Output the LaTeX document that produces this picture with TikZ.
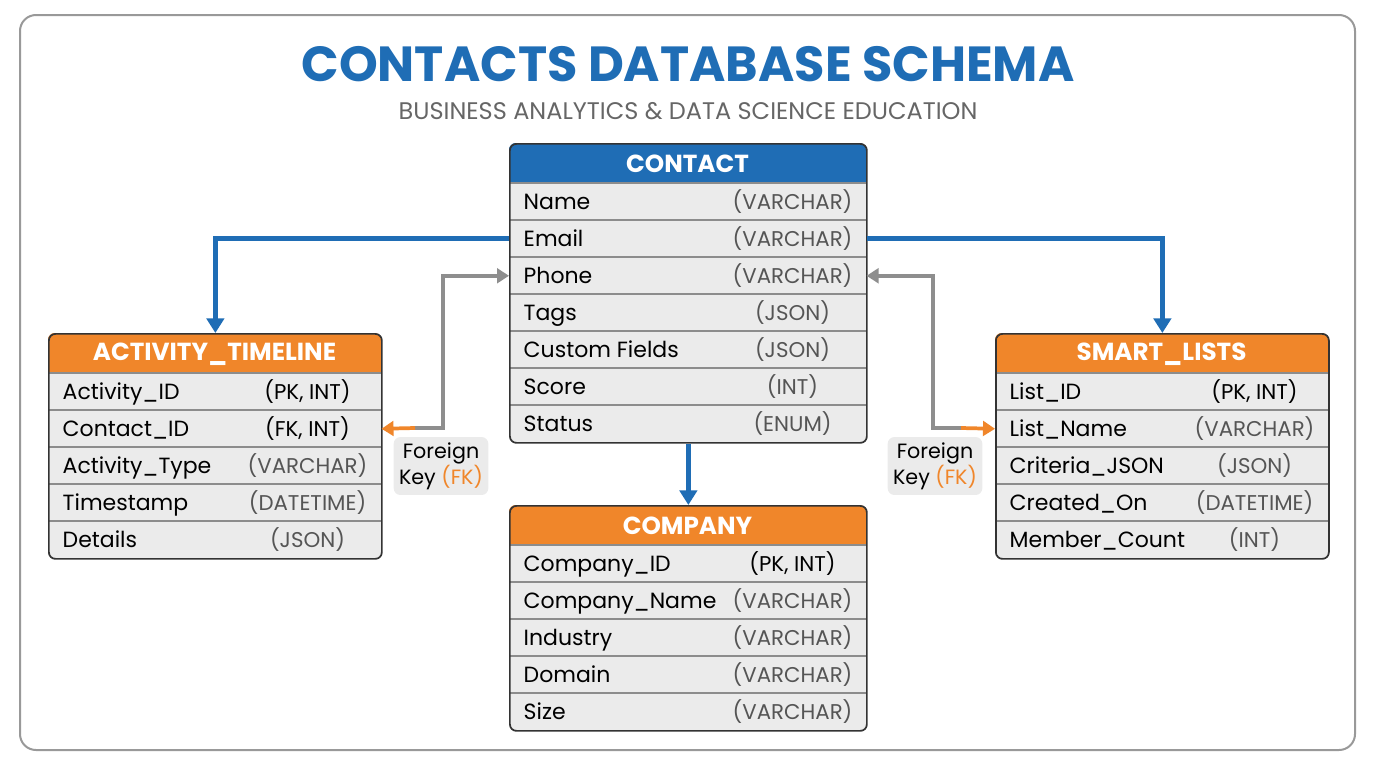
\documentclass[tikz,border=0pt]{standalone}
\usepackage{fontspec}
\setmainfont{Poppins}
\usetikzlibrary{arrows.meta,positioning,calc}
\definecolor{hdrblue}{HTML}{1F6DB5}
\definecolor{hdrorange}{HTML}{F0862A}
\definecolor{rowgray}{HTML}{EBEBEB}
\definecolor{typegray}{HTML}{555555}
\definecolor{fkgray}{HTML}{8E8E8E}
\tikzset{
  frame/.style={draw=black!80, line width=1.3pt, rounded corners=5pt},
  rowline/.style={draw=black!45, line width=0.8pt},
  hdr text/.style={text=white, font=\fontsize{18.5}{20}\selectfont\bfseries},
  field/.style={anchor=west, text height=12pt, text depth=3.5pt, font=\fontsize{16.5}{19}\selectfont},
  ftype/.style={text height=12pt, text depth=3.5pt, font=\fontsize{16}{18}\selectfont, text=typegray},
  link/.style={draw=hdrblue, line width=3.6pt, -{Triangle[length=11pt,width=13pt]}},
  fk/.style={draw=fkgray, line width=2.8pt},
  fk label/.style={fill=rowgray, rounded corners=5pt, align=center, inner sep=4pt,
    font=\fontsize{15.5}{18}\selectfont},
}
\newcommand{\keyt}[1]{\textcolor{black}{(#1)}}
% #1 name, #2 x, #3 y, #4 width, #5 colour, #6 title, #7 rows, #8 number of rows
\newcommand{\erdtable}[8]{
  \fill[rowgray, rounded corners=5pt] (#2,#3) rectangle (#2+#4,#3+40+37*#8);
  \fill[#5] (#2,#3+40) [rounded corners=5pt] -- (#2,#3) -- (#2+#4,#3) [sharp corners] -- (#2+#4,#3+40) -- cycle;
  \node[hdr text] (#1-title) at (#2+#4/2,#3+21) {#6};
  \foreach \fname/\ftype [count=\i] in {#7} {
    \node[minimum width=#4*0.75pt, minimum height=37*0.75pt, inner sep=0pt, anchor=north west]
      (#1-\i) at (#2,#3+40+37*\i-37) {};
    \draw[rowline] (#1-\i.north west) -- (#1-\i.north east);
    \node[field] at ($(#1-\i.west)+(10,2)$) {\fname};
    \node[ftype] at ($(#1-\i.east)+(-74,2)$) {\ftype};
  }
  \node[frame, minimum width=#4*0.75pt, minimum height=(40+37*#8)*0.75pt, anchor=north west]
    (#1) at (#2,#3) {};
}
\begin{document}
\begin{tikzpicture}[x=0.75pt,y=-0.75pt]
\useasboundingbox (0,0) rectangle (1376,768);
\draw[draw=black!40, line width=1.5pt, rounded corners=12pt] (20,15) rectangle (1355,750);
\node[text=hdrblue, font=\fontsize{37}{40}\selectfont\bfseries] (title) at (688,64) {CONTACTS DATABASE SCHEMA};
\node[text=black!60, font=\fontsize{18}{20}\selectfont] (subtitle) at (688,111) {BUSINESS ANALYTICS \& DATA SCIENCE EDUCATION};

\erdtable{contact}{509}{143}{357}{hdrblue}{CONTACT}{Name/(VARCHAR), Email/(VARCHAR), Phone/(VARCHAR), Tags/(JSON), Custom Fields/(JSON), Score/(INT), Status/(ENUM)}{7}
\erdtable{activity}{48}{333}{333}{hdrorange}{ACTIVITY\_TIMELINE}{Activity\_ID/{\keyt{PK, INT}}, Contact\_ID/{\keyt{FK, INT}}, Activity\_Type/(VARCHAR), Timestamp/(DATETIME), Details/(JSON)}{5}
\erdtable{smart}{995}{333}{333}{hdrorange}{SMART\_LISTS}{List\_ID/{\keyt{PK, INT}}, List\_Name/(VARCHAR), Criteria\_JSON/(JSON), Created\_On/(DATETIME), Member\_Count/(INT)}{5}
\erdtable{company}{509}{505}{357}{hdrorange}{COMPANY}{Company\_ID/{\keyt{PK, INT}}, Company\_Name/(VARCHAR), Industry/(VARCHAR), Domain/(VARCHAR), Size/(VARCHAR)}{5}

% relations
\draw[link] (contact-2.west) -| (activity.north);
\draw[link] (contact-2.east) -| (smart.north);
\draw[link] (contact.south) -- (company.north);

% foreign keys
\coordinate (fkl) at (415,428);
\coordinate (fkr) at (961,428);
\draw[fk, -{Triangle[length=9pt,width=11pt]}] (fkl) -- ++(28,0) |- (contact-3.west);
\draw[fk, draw=hdrorange, -{Triangle[length=9pt,width=11pt]}] (fkl) -- (activity-2.east);
\draw[fk, -{Triangle[length=9pt,width=11pt]}] (fkr) -- ++(-28,0) |- (contact-3.east);
\draw[fk, draw=hdrorange, -{Triangle[length=9pt,width=11pt]}] (fkr) -- (smart-2.east -| smart.west);
\node[fk label] (fklabel) at (441,466) {Foreign\\Key \textcolor{hdrorange}{(FK)}};
\node[fk label] (fkrlabel) at (935,466) {Foreign\\Key \textcolor{hdrorange}{(FK)}};
\end{tikzpicture}
\end{document}
